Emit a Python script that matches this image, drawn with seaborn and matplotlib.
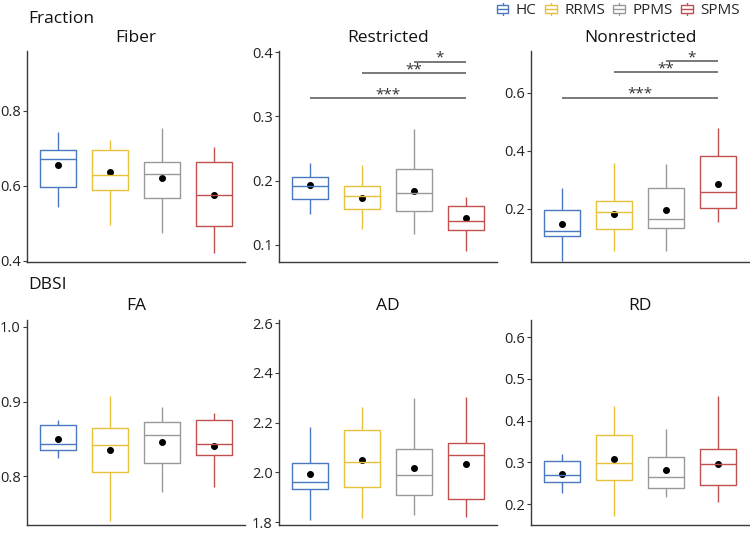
import numpy as np
import pandas as pd
import matplotlib
matplotlib.use("Agg")
import matplotlib.pyplot as plt
from matplotlib.legend_handler import HandlerBase
from matplotlib.patches import Rectangle, Patch
from matplotlib.lines import Line2D
from matplotlib.ticker import FormatStrFormatter
import seaborn as sns

# ---------------- data ----------------
groups = ["HC", "RRMS", "PPMS", "SPMS"]
colors = ["#4a78be", "#e8c13a", "#999999", "#c0504d"]

# five-number summaries per group: [whisker low, Q1, median, Q3, whisker high]
fiber_stats = [[0.543, 0.596, 0.672, 0.695, 0.742],
               [0.496, 0.587, 0.628, 0.696, 0.721],
               [0.473, 0.567, 0.632, 0.662, 0.754],
               [0.421, 0.491, 0.574, 0.663, 0.704]]
fiber_mean = [0.654, 0.635, 0.619, 0.574]

restricted_stats = [[0.148, 0.172, 0.192, 0.205, 0.227],
                    [0.124, 0.156, 0.176, 0.191, 0.224],
                    [0.116, 0.153, 0.180, 0.218, 0.281],
                    [0.090, 0.123, 0.137, 0.160, 0.175]]
restricted_mean = [0.193, 0.173, 0.184, 0.141]

nonrestricted_stats = [[0.020, 0.107, 0.124, 0.194, 0.273],
                       [0.054, 0.129, 0.189, 0.226, 0.359],
                       [0.054, 0.135, 0.165, 0.273, 0.354],
                       [0.154, 0.201, 0.259, 0.383, 0.478]]
nonrestricted_mean = [0.148, 0.182, 0.197, 0.284]

fa_stats = [[0.825, 0.835, 0.843, 0.868, 0.876],
            [0.741, 0.806, 0.842, 0.864, 0.907],
            [0.779, 0.818, 0.855, 0.873, 0.893],
            [0.786, 0.829, 0.843, 0.875, 0.885]]
fa_mean = [0.850, 0.835, 0.846, 0.841]

ad_stats = [[1.809, 1.934, 1.962, 2.038, 2.184],
            [1.817, 1.939, 2.041, 2.172, 2.262],
            [1.827, 1.910, 1.989, 2.094, 2.299],
            [1.820, 1.892, 2.068, 2.117, 2.304]]
ad_mean = [1.994, 2.048, 2.018, 2.033]

rd_stats = [[0.227, 0.252, 0.270, 0.303, 0.320],
            [0.171, 0.258, 0.298, 0.366, 0.434],
            [0.216, 0.239, 0.264, 0.313, 0.380],
            [0.206, 0.246, 0.295, 0.333, 0.460]]
rd_mean = [0.273, 0.308, 0.282, 0.296]

# significance brackets: (from group, to group, height, label)
restricted_sig = [("PPMS", "SPMS", 0.385, "*"),
                  ("RRMS", "SPMS", 0.367, "**"),
                  ("HC", "SPMS", 0.328, "***")]
nonrestricted_sig = [("PPMS", "SPMS", 0.709, "*"),
                     ("RRMS", "SPMS", 0.670, "**"),
                     ("HC", "SPMS", 0.583, "***")]

panels = [
    ("Fiber", fiber_stats, fiber_mean, (0.396, 0.959), [0.4, 0.6, 0.8], []),
    ("Restricted", restricted_stats, restricted_mean, (0.073, 0.402), [0.1, 0.2, 0.3, 0.4], restricted_sig),
    ("Nonrestricted", nonrestricted_stats, nonrestricted_mean, (0.016, 0.744), [0.2, 0.4, 0.6], nonrestricted_sig),
    ("FA", fa_stats, fa_mean, (0.735, 1.009), [0.8, 0.9, 1.0], []),
    ("AD", ad_stats, ad_mean, (1.788, 2.613), [1.8, 2.0, 2.2, 2.4, 2.6], []),
    ("RD", rd_stats, rd_mean, (0.150, 0.641), [0.2, 0.3, 0.4, 0.5, 0.6], []),
]

# ---------------- style ----------------
sns.set_style("white")
plt.rcParams["font.family"] = ["Open Sans", "DejaVu Sans"]
AXCOL = "#3a3a3a"

W, H = 750, 533
fig = plt.figure(figsize=(7.5, 5.33), dpi=100)

lefts = [27, 279, 531]
tops = [51, 320]
bottoms = [262, 525]
pw = 218

for i, (title, stats, means, ylim, yticks, sig) in enumerate(panels):
    r, c = divmod(i, 3)
    ax = fig.add_axes([lefts[c] / W, 1 - bottoms[r] / H, pw / W, (bottoms[r] - tops[r]) / H])

    df = pd.DataFrame({
        "group": np.repeat(groups, 5),
        "value": np.concatenate(stats),
    })
    sns.boxplot(data=df, x="group", y="value", hue="group", order=groups,
                hue_order=groups, palette=colors, fill=False, width=0.7,
                whis=(0, 100), linewidth=1.0, legend=False,
                capprops={"visible": False}, ax=ax)
    sns.pointplot(x=groups, y=means, order=groups, color="black",
                  linestyle="none", markers="o", markersize=3,
                  errorbar=None, ax=ax)

    for g1, g2, h, lab in sig:
        x1, x2 = groups.index(g1), groups.index(g2)
        ax.plot([x1, x2], [h, h], color="#555555", lw=1.1, solid_capstyle="butt")
        ax.text((x1 + x2) / 2, h, lab, ha="center", va="baseline",
                fontsize=11, color="#333333")

    ax.set_xlim(-0.6, 3.6)
    ax.set_ylim(*ylim)
    ax.set_yticks(yticks)
    ax.yaxis.set_major_formatter(FormatStrFormatter("%.1f"))
    ax.set_xticks([])
    ax.set_xlabel("")
    ax.set_ylabel("")
    for s in ["top", "right"]:
        ax.spines[s].set_visible(False)
    for s in ["left", "bottom"]:
        ax.spines[s].set_color(AXCOL)
        ax.spines[s].set_linewidth(1.0)
    ax.tick_params(axis="y", left=True, length=3, width=0.8, color=AXCOL,
                   labelsize=10.5, labelcolor="#222222", pad=1.5)

    cx = (lefts[c] + pw / 2) / W
    ty = 38 if r == 0 else 306
    fig.text(cx, 1 - ty / H, title, ha="center", va="center", fontsize=12.5, color="#111111")

fig.text(28 / W, 1 - 19 / H, "Fraction", ha="left", va="center", fontsize=12.5, color="#111111")
fig.text(28 / W, 1 - 285 / H, "DBSI", ha="left", va="center", fontsize=12.5, color="#111111")


# legend with small boxplot glyphs
class BoxGlyph(HandlerBase):
    def create_artists(self, legend, orig_handle, xdescent, ydescent,
                       width, height, fontsize, trans):
        col = orig_handle.get_edgecolor()
        bw = width
        bh = height * 0.6
        y0 = (height - bh) / 2 - ydescent
        x0 = -xdescent
        rect = Rectangle((x0, y0), bw, bh, fill=False, edgecolor=col, lw=1.0, transform=trans)
        med = Line2D([x0, x0 + bw], [y0 + bh / 2] * 2, color=col, lw=1.0, transform=trans)
        wlo = Line2D([x0 + bw / 2] * 2, [y0 - height * 0.2, y0], color=col, lw=1.0, transform=trans)
        whi = Line2D([x0 + bw / 2] * 2, [y0 + bh, y0 + bh + height * 0.2], color=col, lw=1.0, transform=trans)
        return [rect, med, wlo, whi]


handles = [Patch(edgecolor=col, facecolor="none") for col in colors]
fig.legend(handles, groups, handler_map={Patch: BoxGlyph()}, ncol=4,
           loc="upper right", bbox_to_anchor=(0.999, 1.012), frameon=False,
           fontsize=11, handlelength=0.75, handleheight=0.9, handletextpad=0.5,
           columnspacing=0.55, borderaxespad=0.2)

fig.savefig("out.png", dpi=100)
